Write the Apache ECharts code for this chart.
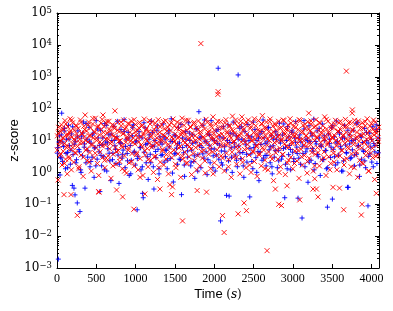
<!DOCTYPE html>
<html><head><meta charset="utf-8">
<script src="https://cdn.jsdelivr.net/npm/echarts@6/dist/echarts.min.js"></script>
<style>html,body{margin:0;padding:0;background:#fff}#c{width:393px;height:311px}</style>
</head><body><div id="c"></div>
<script>
const xTickValues = [0,500,1000,1500,2000,2500,3000,3500,4000];
const yMajorValues = [1e-3,1e-2,1e-1,1,10,100,1e3,1e4,1e5];
const yMinorValues = [];
for (let i = 0; i < yMajorValues.length - 1; i++) {
  for (let k = 2; k <= 9; k++) yMinorValues.push(k * yMajorValues[i]);
}

const bluePoints = [
[5,4],[17,0.0019],[24,9],[38,0.83],[46,3],[55,15],[60,72],[70,2.2],[82,6.5],[95,24],[108,1.3],[120,11],[133,4.2],[146,30],[158,7],[170,1.8],[183,16],[195,0.39],[204,3.6],[216,0.32],[229,0.197],[236,9.5],[248,2.5],[258,0.11],[266,20],[279,5.2],[292,0.059],[300,1.2],[312,13],[325,3.3],[338,38],[350,7.8],[356,0.32],[368,2],[381,11],[394,4.8],[407,26],[420,1.5],[433,8.2],[446,3],[459,17],[472,0.7],[485,6],[498,42],
[511,2.6],[524,12],[537,4.4],[546,0.25],[555,21],[568,1.6],[581,7.4],[594,3.1],[607,34],[620,9],[633,1.1],[646,5.5],[659,15],[672,2.3],[685,0.55],[698,10],[711,4],[724,28],[737,6.8],[750,1.9],[763,13],[776,3.5],[789,0.45],[802,8.6],[815,22],[828,2.8],[841,5],[854,45],[867,1.4],[880,11],[893,3.9],[906,18],[919,0.8],[932,7],[945,2.4],[958,14],[971,31],[984,4.6],[997,1.7],
[1010,9.8],[1020,0.067],[1030,3.2],[1043,19],[1056,6.1],[1069,1.2],[1082,12],[1089,0.22],[1097,0.16],[1108,4.3],[1121,25],[1134,2],[1147,8],[1160,0.6],[1173,15],[1186,3.7],[1199,40],[1212,6.6],[1225,1.5],[1233,0.3],[1246,10],[1259,2.9],[1272,21],[1285,5.3],[1298,0.9],[1311,13],[1324,3.4],[1337,7.7],[1350,33],[1363,2.1],[1376,11],[1389,4.9],[1402,1.3],[1415,17],[1428,6.3],[1441,2.7],[1454,48],[1467,9.3],[1480,0.5],[1493,3.8],
[1506,14],[1519,5.8],[1532,1.8],[1545,26],[1558,8.4],[1571,2.5],[1584,0.2],[1597,12],[1610,4.1],[1623,0.75],[1636,19],[1649,6.9],[1662,3],[1675,36],[1688,10],[1701,1.6],[1714,5],[1727,15],[1740,2.2],[1753,0.65],[1766,8.8],[1779,23],[1792,3.6],[1805,80],[1818,12],[1831,1.4],[1844,6],[1857,30],[1870,2.8],[1883,9.6],[1896,4.4],[1909,0.85],[1922,16],[1935,7.1],[1948,2],[1961,42],[1974,11],[1987,3.3],
[2000,5.4],[2013,1.1],[2026,20],[2039,8],[2050,1850],[2058,2.6],[2071,13],[2080,0.03],[2091,4.7],[2104,1.7],[2117,27],[2130,6.4],[2143,3.1],[2156,0.19],[2169,10],[2182,2.3],[2190,0.18],[2203,17],[2216,5.9],[2229,1],[2242,38],[2255,8.5],[2268,3.5],[2281,14],[2294,1.5],[2304,1140],[2312,6.7],[2325,24],[2338,2.7],[2351,11],[2364,4.2],[2377,0.7],[2390,19],[2403,7.3],[2416,2.1],[2429,32],[2442,9.9],[2452,0.17],[2465,3.8],[2478,13],[2491,1.3],
[2504,6],[2517,22],[2530,2.9],[2543,10],[2556,4.5],[2569,0.55],[2582,16],[2595,7.5],[2608,2.4],[2621,44],[2634,12],[2647,3.4],[2660,1.6],[2673,9],[2686,25],[2699,5.1],[2712,2],[2725,14],[2738,0.9],[2751,6.8],[2764,3],[2777,19],[2790,11],[2803,1.4],[2816,4.9],[2829,35],[2842,8.3],[2855,2.6],[2868,15],[2881,5.6],[2897,0.16],[2907,1.8],[2920,10],[2933,27],[2946,3.6],[2959,7],[2972,1.2],[2985,18],
[2998,4.3],[3011,2.2],[3024,12],[3037,39],[3050,6.2],[3066,0.155],[3076,2.8],[3089,15],[3102,8.9],[3117,0.037],[3128,3.9],[3141,23],[3154,1.5],[3167,11],[3180,5.5],[3193,0.49],[3206,29],[3219,9.2],[3232,2.4],[3245,14],[3258,4.6],[3266,47],[3284,1.9],[3297,7.8],[3310,20],[3323,3.1],[3336,12],[3349,0.8],[3362,6.5],[3375,33],[3388,2.5],[3401,10],[3414,4.8],[3427,1.3],[3440,0.081],[3453,16],[3466,8],[3479,2.9],[3492,25],
[3503,0.145],[3515,5.3],[3528,13],[3541,1.7],[3554,41],[3567,9.4],[3580,3.5],[3593,18],[3606,6.6],[3619,1.1],[3632,12],[3645,2.3],[3658,30],[3671,7.2],[3684,4],[3695,0.34],[3705,0.34],[3718,15],[3731,2.7],[3744,9.8],[3757,5.1],[3770,21],[3783,1.6],[3796,11],[3809,3.7],[3822,36],[3835,6.9],[3848,0.75],[3861,14],[3874,2.6],[3887,8.7],[3900,4.5],[3913,24],[3926,1.4],[3939,10],[3956,0.089],[3965,3.2],[3978,17],[3991,6.3],[4004,2.1],[4017,27],[4030,8.1],[4043,4.4],[4060,31],[4070,1.9],[4083,12],
[11,6],[31,14],[52,2.8],[74,9],[92,20],[115,3.9],[136,1.4],[152,11],[176,5],[199,27],[220,7.7],[241,2],[262,13],[285,4.4],[306,1],[327,17],[346,6.2],[371,34],[390,3],[412,9.6],[430,2.2],[452,15],[476,5.8],[494,1.6],[517,23],[539,7],[560,3.4],[583,12],[602,1.2],[626,30],[641,8.4],[663,4],[688,16],[706,2.5],[729,10],[745,5.3],[768,40],[793,1.8],[811,8],[834,3.7],[856,19],[872,6.5],[897,2.3],[916,12],[938,0.9],[961,26],[979,4.2],[1001,9],[1022,2.7],[1046,14],[1063,5.9],[1085,1.5],[1106,36],[1128,7.4],[1149,3.1],[1170,11],[1192,2],[1215,18],[1236,6.7],[1254,4.5],[1278,29],[1297,1.3],[1319,8.9],[1340,3.6],[1362,13],[1385,5.1],[1404,2.4],[1426,21],[1447,9.4],[1469,0.95],[1490,15],[1511,4],[1533,7.9],[1555,2.6],[1576,32],[1598,6],[1619,1.7],[1640,11],[1662,4.7],[1684,17],[1705,2.1],[1726,8.2],[1747,3.3],[1770,24],[1790,1.1],[1812,6.9],[1833,13],[1855,3.8],[1876,44],[1898,9.1],[1920,2.5],[1941,15],[1962,5.5],[1984,1.4],[2005,10],[2027,3.5],[2048,22],[2069,7.2],[2091,2],[2112,12],[2134,4.6],[2155,1.2],[2176,31],[2198,8.6],[2219,3],[2241,16],[2262,6.3],[2284,2.4],[2305,11],[2327,4.1],[2348,27],[2369,1.6],[2391,9.5],[2412,3.7],[2434,14],[2455,5.7],[2477,2.2],[2498,38],[2520,7.6],[2541,1],[2563,12],[2584,4.3],[2606,19],[2627,2.8],[2648,8.1],[2670,3.4],[2691,26],[2713,6.4],[2734,1.5],[2756,11],[2777,4.8],[2799,15],[2820,2.3],[2842,9.8],[2863,3.2],[2885,33],[2906,6.1],[2928,1.3],[2949,13],[2970,5.2],[2992,20],[3013,2.7],[3035,8.8],[3056,3.9],[3078,12],[3099,1.8],[3121,6.6],[3142,42],[3164,4.4],[3185,10],[3207,2.1],[3228,17],[3249,5.6],[3271,1.2],[3292,9.3],[3314,3.6],[3335,24],[3357,7.1],[3378,2.5],[3400,14],[3421,4.9],[3443,1.4],[3464,11],[3486,6.2],[3507,29],[3529,3.1],[3550,8.4],[3572,2],[3593,16],[3614,5.4],[3636,1.1],[3657,12],[3679,4.2],[3700,21],[3722,7.8],[3743,2.9],[3765,10],[3786,3.5],[3808,35],[3829,6.7],[3851,1.7],[3872,13],[3894,5],[3915,2.3],[3937,18],[3958,8.3],[3980,3.8],[4001,11],[4023,1.5],[4044,6.9],[4066,22],[4087,4.1]
];

const redPoints = [
[6,14],[14,0.58],[21,26],[28,7],[35,3.4],[42,19],[50,9.5],[57,31],[64,1.7],[71,12],[79,4.6],[86,22],[89,0.2],[94,8],[101,42],[108,2.6],[116,15],[123,6],[130,0.9],[138,27],[145,11],[152,3.1],[160,18],[167,48],[175,5.2],[178,0.2],[183,1.2],[190,13],[198,36],[205,7.5],[212,2.1],[220,21],[227,10],[235,4],[242,30],[250,16],
[258,0.045],[262,6.5],[271,24],[280,1.5],[289,11],[298,44],[306,3.5],[315,17],[324,8.5],[333,0.75],[341,28],[350,13],[358,63],[367,5],[376,20],[385,2.3],[393,9],[402,38],[410,14],[419,4.2],[428,25],[436,1.1],[445,7],[454,33],[462,12],[471,2.9],[480,18],[488,50],[497,6],
[505,10],[514,1.9],[522,29],[531,0.25],[534,0.24],[540,15],[548,4.4],[557,22],[565,8],[574,46],[583,3],[585,63],[592,13],[600,27],[609,1.4],[618,7.2],[626,35],[635,17],[644,2.5],[652,11],[661,40],[670,5.5],[678,20],[687,0.65],[695,9],[704,31],[713,3.7],[721,14],[730,24],[737,85],[744,6.2],[750,1.8],
[758,0.28],[763,12],[772,39],[780,4.8],[789,19],[798,2.2],[806,10],[815,29],[824,7],[832,1.3],[835,0.17],[841,16],[850,44],[858,3.3],[867,23],[876,8.8],[884,0.95],[893,13],[902,34],[910,5.8],[919,2],[928,18],[936,9.5],[945,41],[954,3.9],[962,26],[971,12],[978,0.07],[983,1.6],[990,7.8],[998,32],
[1007,15],[1015,4.1],[1024,21],[1032,1.2],[1041,9],[1050,37],[1058,2.7],[1067,13],[1076,28],[1084,6.4],[1093,0.8],[1102,17],[1110,47],[1118,0.21],[1123,3.5],[1132,11],[1140,24],[1149,5.6],[1158,1.5],[1166,19],[1175,8.2],[1184,33],[1192,2.4],[1201,14],[1210,39],[1218,6.9],[1227,1],[1236,22],[1244,10],
[1253,3.2],[1262,27],[1270,12],[1279,0.6],[1288,45],[1296,7.4],[1305,18],[1309,0.3],[1314,2.1],[1322,9.8],[1331,31],[1340,4.7],[1348,15],[1357,1.7],[1366,23],[1374,8.6],[1383,42],[1392,3.6],[1400,12],[1409,26],[1418,0.9],[1426,6.1],[1436,0.41],[1444,20],[1452,36],[1457,0.2],[1461,2.9],[1470,0.35],[1478,11],[1487,5],[1496,29],
[1504,16],[1513,1.4],[1522,8],[1530,38],[1539,3.8],[1548,13],[1556,24],[1565,6.6],[1574,0.7],[1582,18],[1591,50],[1597,0.03],[1600,2.6],[1608,10],[1617,30],[1626,4.3],[1634,15],[1643,1.9],[1652,21],[1660,7.3],[1669,43],[1678,3.1],[1686,12],[1695,27],[1704,5.4],[1712,0.85],[1721,17],[1730,9.2],[1738,34],[1747,2.3],
[1756,14],[1764,6],[1773,25],[1783,0.27],[1790,3.4],[1799,41],[1808,11],[1816,1.6],[1825,19],[1830,11000],[1834,7.7],[1842,32],[1851,2.8],[1860,13],[1868,4.9],[1877,23],[1886,0.95],[1894,9.3],[1902,0.24],[1911,37],[1920,15],[1928,3.7],[1937,20],[1946,6.8],[1954,1.3],[1963,28],[1972,11],[1980,4.4],[1985,55],[1994,17],
[2002,2],[2011,8.4],[2020,33],[2028,13],[2037,5.1],[2046,280],[2050,340],[2054,24],[2063,1.5],[2072,10],[2080,39],[2089,3.3],[2098,16],[2105,0.044],[2110,7],[2118,26],[2126,0.013],[2130,1.1],[2139,12],[2148,45],[2156,4],[2165,19],[2174,8],[2182,2.5],[2191,30],[2200,14],[2208,5.8],[2217,0.7],[2226,22],[2232,58],[2240,9],[2249,3],
[2258,17],[2266,35],[2275,6.3],[2284,1.8],[2292,12],[2301,27],[2304,0.05],[2310,4.6],[2318,15],[2327,0.9],[2336,40],[2344,8.9],[2352,55],[2360,2.7],[2369,21],[2378,11],[2380,0.11],[2387,5.2],[2395,31],[2404,1.4],[2410,0.063],[2416,16],[2424,7.6],[2433,44],[2442,3.5],[2450,13],[2459,24],[2468,1],[2476,9.7],[2485,36],[2494,4.3],
[2502,18],[2511,2.2],[2520,11],[2528,29],[2537,6.5],[2546,0.75],[2554,15],[2563,42],[2572,3.9],[2580,20],[2589,8.3],[2598,1.6],[2606,33],[2613,60],[2620,12],[2629,5],[2638,25],[2646,2.4],[2655,14],[2664,38],[2672,0.0035],[2676,7.1],[2685,1.2],[2694,19],[2702,10],[2711,47],[2720,3.2],[2728,16],[2737,6],[2746,28],
[2754,0.55],[2763,13],[2772,34],[2778,0.3],[2783,4.1],[2792,21],[2800,9.4],[2809,2.6],[2818,40],[2821,0.1],[2826,15],[2835,5.7],[2844,1.5],[2852,26],[2855,0.091],[2861,11],[2870,3.6],[2878,44],[2887,17],[2896,7.9],[2904,0.85],[2913,23],[2922,12],[2926,0.38],[2931,2],[2939,31],[2948,6.2],[2956,14],[2965,48],[2974,3],[2982,19],[2991,9],
[3000,1.3],[3008,27],[3017,13],[3026,4.7],[3034,37],[3043,16],[3052,2.3],[3060,8.1],[3069,22],[3078,0.65],[3086,11],[3088,0.137],[3095,42],[3104,5.3],[3112,18],[3121,1.7],[3130,30],[3138,9.9],[3147,3.4],[3156,24],[3164,14],[3173,6.7],[3182,0.95],[3190,39],[3199,12],[3202,72],[3208,2.8],[3216,20],[3225,7.4],[3234,33],[3242,4.2],
[3251,15],[3257,0.3],[3260,1.1],[3268,26],[3277,10],[3278,0.63],[3286,3.7],[3294,45],[3300,0.3],[3303,13],[3312,6],[3320,0.17],[3329,21],[3338,1.6],[3346,35],[3355,8.7],[3364,17],[3372,2.5],[3381,29],[3390,11],[3398,4.4],[3405,55],[3413,14],[3422,0.8],[3430,23],[3439,7.3],[3448,40],[3456,3.1],[3465,16],[3474,9.6],[3482,1.9],[3491,31],
[3500,12],[3508,5.1],[3511,0.34],[3517,25],[3526,2.1],[3534,14],[3543,43],[3552,6.9],[3560,1.2],[3569,19],[3578,9.1],[3586,36],[3593,0.32],[3599,3.3],[3608,22],[3616,11],[3625,4.8],[3634,30],[3643,15],[3647,0.067],[3651,1.7],[3660,8.2],[3669,46],[3677,18],[3681,1500],[3686,2.7],[3694,27],[3703,10],[3712,5.6],[3720,0.9],[3729,38],[3738,13],[3746,3.8],[3755,72],[3757,91],
[3764,21],[3772,7.6],[3781,1.4],[3790,32],[3798,12],[3807,4.5],[3816,18],[3824,0.7],[3833,41],[3842,9.4],[3850,2.4],[3859,24],[3868,14],[3871,0.046],[3876,5.9],[3880,0.1],[3885,36],[3894,1.9],[3902,16],[3911,8.5],[3920,29],[3928,3.4],[3937,11],[3946,48],[3954,6.4],[3963,1.1],[3972,20],[3980,13],[3989,4],[3998,34],[4006,9.8],[4015,2.9],[4024,23],[4032,15],[4041,0.6],[4050,38],[4058,7],[4062,0.22],[4067,17],[4076,3.5],[4084,12],[4092,26],
[3,5],[19,17],[33,9],[48,3.8],[66,24],[81,12],[97,1.9],[113,33],[127,7],[142,15],[157,2.7],[171,20],[187,44],[201,6],[216,11],[231,4.2],[246,28],[261,13],[276,1.3],[291,8.5],[305,37],[320,16],[336,3],[351,22],[366,10],[380,5.5],[396,31],[411,2.1],[426,14],[441,7.8],[456,49],[471,19],[486,4],[501,12],[516,26],[531,0.8],[546,9],[561,35],[576,6.7],[591,18],[606,2.4],[621,11],[636,40],[651,3.3],[666,23],[681,8],[696,15],[711,1.6],[726,29],[741,12],[756,4.5],[771,21],[786,9.5],[801,2.9],[816,38],[831,6.2],[846,17],[861,1.1],[876,26],[891,11],[906,5],[921,33],[936,14],[951,2.2],[966,8.8],[981,45],[996,19],[1011,3.6],[1026,12],[1041,25],[1056,0.7],[1071,7.3],[1086,30],[1101,15],[1116,4.8],[1131,21],[1146,9.9],[1161,2.5],[1176,42],[1191,13],[1206,6.1],[1221,18],[1236,3.1],[1251,35],[1266,8.2],[1281,16],[1296,1.4],[1311,27],[1326,11],[1341,5.3],[1356,39],[1371,14],[1386,2.6],[1401,20],[1416,7.6],[1431,31],[1446,4.1],[1461,13],[1476,47],[1491,9],[1506,1.8],[1521,24],[1536,12],[1551,5.8],[1566,34],[1581,15],[1596,3.2],[1611,19],[1626,8.4],[1641,43],[1656,2],[1671,11],[1686,6.5],[1701,26],[1716,14],[1731,3.9],[1746,37],[1761,10],[1776,1.2],[1791,22],[1806,7],[1821,16],[1836,4.6],[1851,29],[1866,12],[1881,2.3],[1896,46],[1911,8.1],[1926,18],[1941,5.1],[1956,33],[1971,13],[1986,0.9],[2001,21],[2016,9.7],[2031,3.4],[2046,40],[2061,15],[2076,6.9],[2091,25],[2106,2.8],[2121,11],[2136,36],[2151,7.4],[2166,17],[2181,1.5],[2196,28],[2211,12],[2226,4.3],[2241,20],[2256,9.2],[2271,44],[2286,3],[2301,14],[2316,6.3],[2331,31],[2346,16],[2361,2.1],[2376,23],[2391,8.7],[2406,38],[2421,5.6],[2436,13],[2451,1.7],[2466,27],[2481,10],[2496,4.7],[2511,48],[2526,15],[2541,7.1],[2556,21],[2571,3.5],[2586,12],[2601,34],[2616,6],[2631,18],[2646,1.3],[2661,25],[2676,11],[2691,4.4],[2706,39],[2721,14],[2736,2.6],[2751,19],[2766,8.6],[2781,30],[2796,5.2],[2811,13],[2826,1],[2841,24],[2856,9.8],[2871,3.7],[2886,42],[2901,16],[2916,6.6],[2931,22],[2946,2.4],[2961,11],[2976,35],[2991,7.9],[3006,15],[3021,1.9],[3036,26],[3051,12],[3066,4.9],[3081,45],[3096,10],[3111,3.1],[3126,19],[3141,7.2],[3156,32],[3171,14],[3186,2.2],[3201,23],[3216,9.1],[3231,41],[3246,5.4],[3261,17],[3276,1.6],[3291,28],[3306,12],[3321,4.2],[3336,37],[3351,15],[3366,6.8],[3381,21],[3396,2.9],[3411,11],[3426,46],[3441,8.3],[3456,18],[3471,1.2],[3486,25],[3501,13],[3516,4],[3531,33],[3546,10],[3561,3.3],[3576,20],[3591,7.7],[3606,40],[3621,5],[3636,14],[3651,2.5],[3666,27],[3681,11],[3696,6.1],[3711,36],[3726,16],[3741,1.5],[3756,22],[3771,9.4],[3786,43],[3801,3.6],[3816,13],[3831,6.4],[3846,30],[3861,15],[3876,2],[3891,24],[3906,8.9],[3921,39],[3936,4.5],[3951,17],[3966,1.1],[3981,28],[3996,12],[4011,5.7],[4026,44],[4041,19],[4056,3.2],[4071,21],[4086,9.6]
];

const chart = echarts.init(document.getElementById('c'), null, {renderer: 'canvas'});
const black = '#000';
function yLabel(v) {
  const e = Math.round(Math.log10(v));
  const s = e < 0 ? '\u2212' + (-e) : '' + e;
  return '{b|10}{e|' + s + '}';
}
function yAxisDef(pos, major, showLabel) {
  return {
    type: 'log', logBase: 10, min: 1e-3, max: 1e5, position: pos,
    axisLine: {show: major, onZero: false, lineStyle: {color: black, width: 1}},
    axisTick: {show: true, inside: true, length: major ? 4 : 2,
      customValues: major ? yMajorValues : yMinorValues,
      lineStyle: {color: black, width: 1}},
    axisLabel: {show: showLabel, customValues: yMajorValues, margin: 5,
      formatter: yLabel,
      rich: {
        b: {fontFamily: 'DejaVu Serif', fontSize: 12, color: black, lineHeight: 14},
        e: {fontFamily: 'DejaVu Serif', fontSize: 8.5, color: black, lineHeight: 9, verticalAlign: 'top'}
      }},
    splitLine: {show: false}, minorTick: {show: false}, minorSplitLine: {show: false}
  };
}
const yAxes = [yAxisDef('left', true, true), yAxisDef('left', false, false),
               yAxisDef('right', true, false), yAxisDef('right', false, false)];
yAxes[0].name = 'z-score';
yAxes[0].nameLocation = 'middle';
yAxes[0].nameGap = 36;
yAxes[0].nameMoveOverlap = false;
yAxes[0].nameTextStyle = {fontFamily: 'Liberation Sans', fontSize: 13, color: black};

function xAxisDef(pos, showLabel) {
  return {
    type: 'value', min: 0, max: 4096, position: pos,
    axisLine: {show: true, onZero: false, lineStyle: {color: black, width: 1}},
    axisTick: {show: true, inside: true, length: 4, customValues: xTickValues,
      lineStyle: {color: black, width: 1}},
    axisLabel: {show: showLabel, customValues: xTickValues, margin: 5,
      formatter: function (v) { return String(v); },
      fontFamily: 'Liberation Serif', fontSize: 12, color: black},
    splitLine: {show: false}
  };
}
const xAxes = [xAxisDef('bottom', true), xAxisDef('top', false)];
xAxes[0].name = '{a|Time }{p|(}{i|s}{p|)}';
xAxes[0].nameLocation = 'middle';
xAxes[0].nameGap = 20;
xAxes[0].nameMoveOverlap = false;
xAxes[0].nameTextStyle = {
  rich: {
    a: {fontFamily: 'Liberation Sans', fontSize: 13, color: black},
    p: {fontFamily: 'DejaVu Serif', fontSize: 12, color: black},
    i: {fontFamily: 'DejaVu Serif', fontStyle: 'italic', fontSize: 12, color: black}
  }
};

const plusPath = 'path://M5,0L5,10M0,5L10,5';
const crossPath = 'path://M0,0L10,10M10,0L0,10';
chart.setOption({
  animation: false,
  backgroundColor: '#fff',
  grid: {left: 57, right: 14, top: 13, bottom: 43, containLabel: false, outerBoundsMode: 'none'},
  xAxis: xAxes,
  yAxis: yAxes,
  series: [
    {type: 'scatter', data: bluePoints, symbol: plusPath, symbolSize: 5, silent: true,
     itemStyle: {color: 'rgba(0,0,0,0)', borderColor: '#0000ff', borderWidth: 1, opacity: 0.9}},
    {type: 'scatter', data: redPoints, symbol: crossPath, symbolSize: 5, silent: true,
     itemStyle: {color: 'rgba(0,0,0,0)', borderColor: '#ff0000', borderWidth: 1, opacity: 0.9}}
  ]
});
</script>
</body></html>
